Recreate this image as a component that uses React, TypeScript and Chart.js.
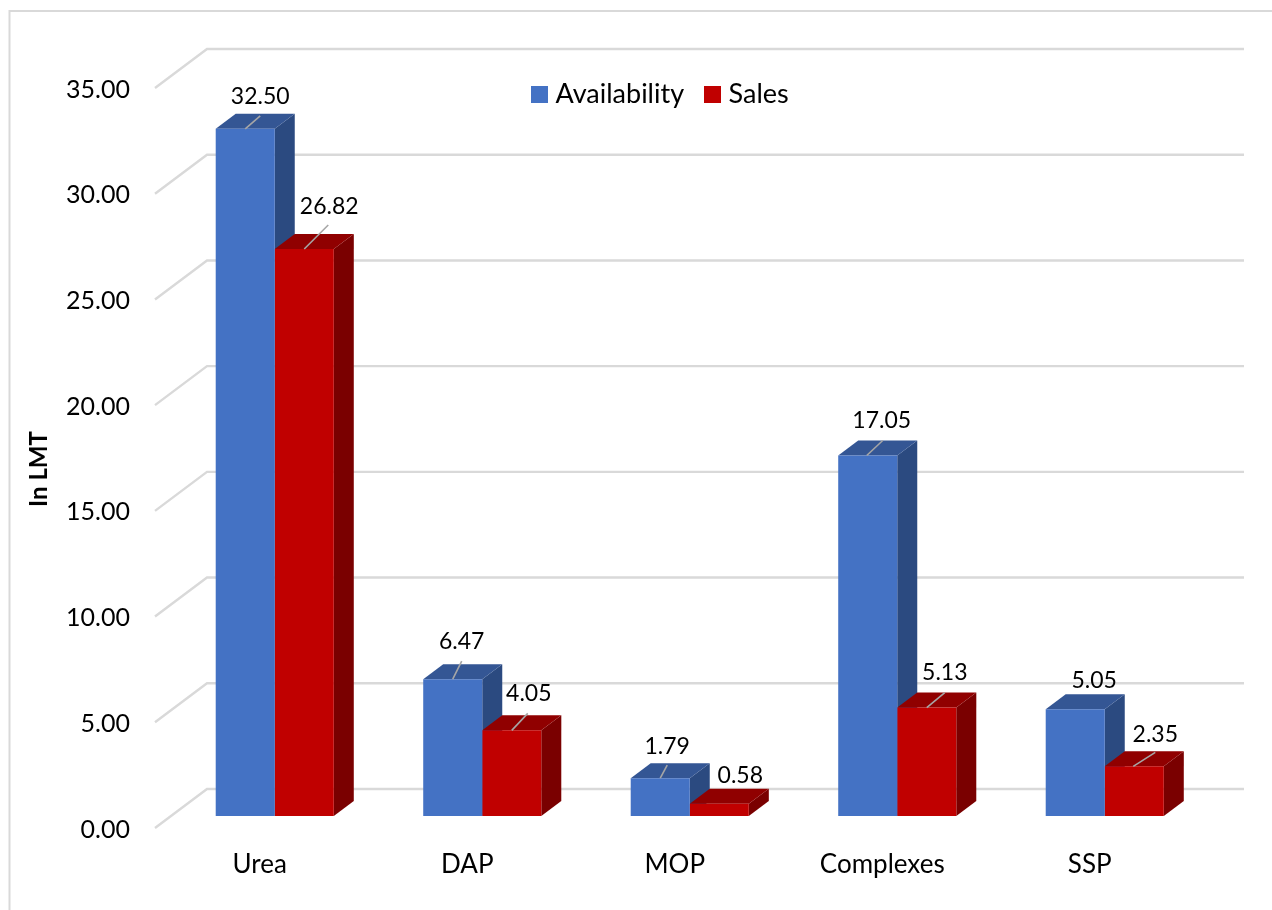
import React, { useEffect, useRef } from "react";
import { Chart, registerables } from "chart.js";

Chart.register(...registerables);

const categories = ["Urea", "DAP", "MOP", "Complexes", "SSP"];
const availability = [32.5, 6.47, 1.79, 17.05, 5.05];
const sales = [26.82, 4.05, 0.58, 5.13, 2.35];

const FONT = "Lato, Carlito, Calibri, sans-serif";
const GRID = "#d9d9d9";
const DEPTH_X = 20;
const DEPTH_Y = 15;

const faces = [
  { front: "#4472C4", top: "#345694", side: "#2b4a80" },
  { front: "#C00000", top: "#900000", side: "#7a0000" },
];

// label centre relative to the bar's top centre; leader end relative to the same point
const labelPlacement = [
  [
    { dx: 15, dy: -32, lead: [0, 15, -13] },
    { dx: 9, dy: -38, lead: [0, 9, -18] },
    { dx: 7, dy: -32, lead: [0, 7, -13] },
    { dx: 14, dy: -35, lead: [-1, 15, -15] },
    { dx: 19, dy: -29, lead: null },
  ],
  [
    { dx: 25, dy: -42, lead: [0, 24, -24] },
    { dx: 17, dy: -37, lead: [0, 16, -17] },
    { dx: 21, dy: -28, lead: null },
    { dx: 18, dy: -35, lead: [0, 18, -15] },
    { dx: 21, dy: -32, lead: [-1, 21, -14] },
  ],
];

function squareIcon(color: string) {
  const c = document.createElement("canvas");
  c.width = 17;
  c.height = 17;
  const g = c.getContext("2d")!;
  g.fillStyle = color;
  g.fillRect(0, 0, 17, 17);
  return c;
}

const depthPlugin = {
  id: "depth",
  beforeLayout(chart: any) {
    if (chart.legend) chart.legend.isHorizontal = () => true;
  },
  afterLayout(chart: any) {
    const y = chart.scales.y;
    if (!y.__shifted) {
      y.__shifted = true;
      const original = y.drawTitle;
      y.drawTitle = function () {
        chart.ctx.save();
        chart.ctx.translate(0, 23);
        original.call(y);
        chart.ctx.restore();
      };
    }
    const lg = chart.legend;
    lg.left = 511;
    lg.right = 1100;
    lg.top = 56;
  },
  beforeDatasetsDraw(chart: any) {
    const { ctx, scales } = chart;
    const y = scales.y;
    ctx.save();
    ctx.strokeStyle = GRID;
    ctx.lineWidth = 2;
    ctx.beginPath();
    ctx.moveTo(9.5, 910);
    ctx.lineTo(9.5, 11);
    ctx.lineTo(1272, 11);
    ctx.stroke();
    ctx.lineWidth = 2.4;
    y.ticks.forEach((t: any) => {
      const p = y.getPixelForValue(t.value);
      ctx.beginPath();
      ctx.moveTo(155, p + 12);
      ctx.lineTo(207, p - 27);
      ctx.lineTo(1244, p - 27);
      ctx.stroke();
    });
    [0, 1].forEach((d) => {
      const c = faces[d];
      chart.getDatasetMeta(d).data.forEach((bar: any) => {
        const half = bar.width / 2;
        const l = bar.x - half;
        const r = bar.x + half;
        const top = bar.y;
        const base = bar.base;
        ctx.fillStyle = c.side;
        ctx.beginPath();
        ctx.moveTo(r, top);
        ctx.lineTo(r + DEPTH_X, top - DEPTH_Y);
        ctx.lineTo(r + DEPTH_X, base - DEPTH_Y);
        ctx.lineTo(r, base);
        ctx.closePath();
        ctx.fill();
        ctx.fillStyle = c.top;
        ctx.beginPath();
        ctx.moveTo(l, top);
        ctx.lineTo(l + DEPTH_X, top - DEPTH_Y);
        ctx.lineTo(r + DEPTH_X, top - DEPTH_Y);
        ctx.lineTo(r, top);
        ctx.closePath();
        ctx.fill();
      });
    });
    ctx.restore();
  },
  afterDatasetsDraw(chart: any) {
    const { ctx } = chart;
    ctx.save();
    ctx.textAlign = "center";
    ctx.textBaseline = "middle";
    ctx.font = `23px ${FONT}`;
    [0, 1].forEach((d) => {
      const values = chart.data.datasets[d].data;
      chart.getDatasetMeta(d).data.forEach((bar: any, i: number) => {
        const place = labelPlacement[d][i];
        if (place.lead) {
          ctx.strokeStyle = "#a6a6a6";
          ctx.lineWidth = 1.6;
          ctx.beginPath();
          ctx.moveTo(bar.x + place.lead[0], bar.y);
          ctx.lineTo(bar.x + place.lead[1], bar.y + place.lead[2]);
          ctx.stroke();
        }
        ctx.fillStyle = "#000000";
        ctx.fillText(values[i].toFixed(2), bar.x + place.dx, bar.y + place.dy);
      });
    });
    ctx.restore();
  },
};

export default function App() {
  const ref = useRef<HTMLCanvasElement>(null);
  useEffect(() => {
    const chart = new Chart(ref.current!, {
      type: "bar",
      data: {
        labels: categories,
        datasets: [
          { label: "Availability", data: availability, backgroundColor: faces[0].front },
          { label: "Sales", data: sales, backgroundColor: faces[1].front },
        ],
      },
      options: {
        animation: false,
        responsive: false,
        devicePixelRatio: 1,
        layout: { padding: { top: 76, right: 63.5, left: 0, bottom: 0 } },
        datasets: { bar: { categoryPercentage: 0.569, barPercentage: 1 } },
        plugins: {
          tooltip: { enabled: false },
          legend: {
            position: "chartArea",
            align: "start",
            labels: {
              font: { family: FONT, size: 27 },
              color: "#000000",
              padding: 25,
              usePointStyle: true,
              pointStyleWidth: 6,
              boxHeight: 17,
              generateLabels: (chart: any) =>
                chart.data.datasets.map((ds: any, i: number) => ({
                  text: ds.label,
                  fillStyle: ds.backgroundColor,
                  strokeStyle: ds.backgroundColor,
                  pointStyle: squareIcon(ds.backgroundColor),
                  lineWidth: 0,
                  datasetIndex: i,
                  fontColor: "#000000",
                })),
            },
          },
        },
        scales: {
          x: {
            grid: { display: false, drawTicks: false },
            border: { display: false },
            afterFit: (s: any) => {
              s.height = 94;
            },
            ticks: {
              font: { family: FONT, size: 26 },
              color: "#000000",
              padding: 33,
              labelOffset: -15,
              maxRotation: 0,
              autoSkip: false,
            },
          },
          y: {
            min: 0,
            max: 35,
            grid: { display: false, drawTicks: false },
            border: { display: false },
            afterFit: (s: any) => {
              s.width = 171;
            },
            title: {
              display: true,
              text: "In LMT",
              color: "#000000",
              font: { family: FONT, size: 24, weight: "bold" },
              padding: { top: 25, bottom: 0 },
            },
            ticks: {
              stepSize: 5,
              font: { family: FONT, size: 25 },
              color: "#000000",
              padding: 41,
              labelOffset: 13.5,
              callback: (v: any) => Number(v).toFixed(2),
            },
          },
        },
      } as any,
      plugins: [depthPlugin as any],
    });
    return () => chart.destroy();
  }, []);
  return (
    <div style={{ position: "absolute", left: 0, top: 0, width: 1272, height: 910, background: "#fff" }}>
      <canvas ref={ref} width={1272} height={910} style={{ display: "block" }} />
    </div>
  );
}
